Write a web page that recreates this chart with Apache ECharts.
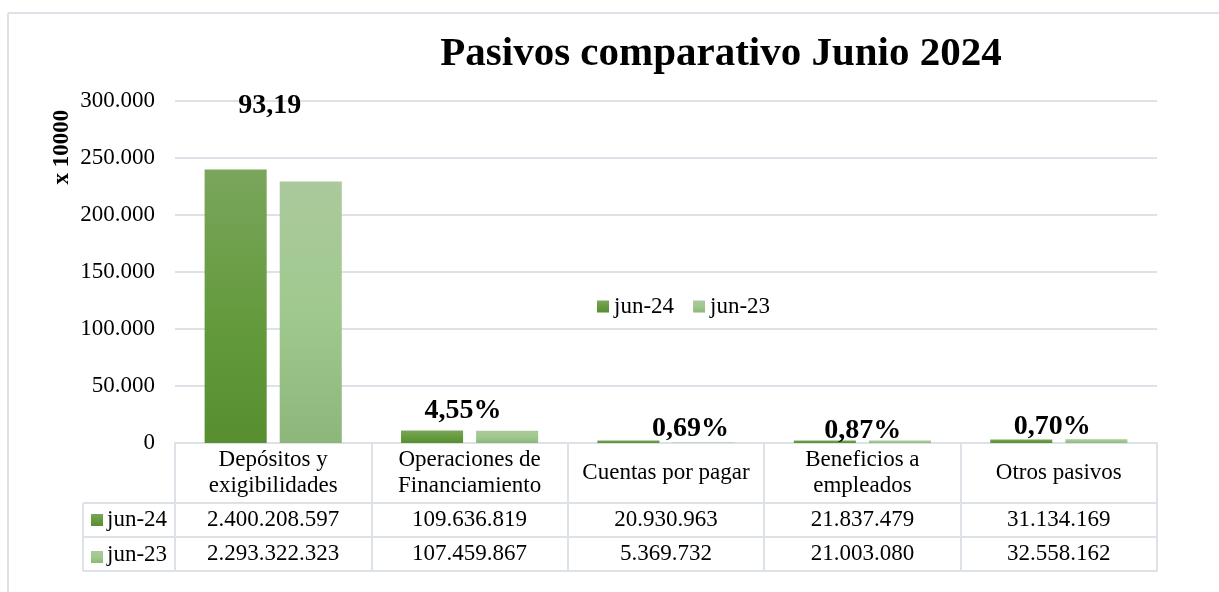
<!DOCTYPE html>
<html lang="es">
<head>
    <meta charset="UTF-8">
    <title>Pasivos comparativo Junio 2024</title>
    <script src="https://cdn.jsdelivr.net/npm/echarts@6/dist/echarts.min.js"></script>
    <style>
        html, body { margin: 0; padding: 0; background: #fff; }
        #pasivosBar { width: 1219px; height: 592px; }
    </style>
</head>
<body>
<div id="pasivosBar"></div>
<script type="text/javascript">
    // datos
    var categorias = ['Depósitos y\nexigibilidades', 'Operaciones de\nFinanciamiento', 'Cuentas por pagar', 'Beneficios a\nempleados', 'Otros pasivos']
    var jun24 = [2400208597, 109636819, 20930963, 21837479, 31134169]
    var jun23 = [2293322323, 107459867, 5369732, 21003080, 32558162]
    var etiquetas = ['93,19', '4,55%', '0,69%', '0,87%', '0,70%']
    var escala = 10000

    var fuente = "'Liberation Serif', 'Times New Roman', serif"
    var gris = '#dde1e8'

    function miles(n) {
        return String(Math.round(n)).replace(/\B(?=(\d{3})+(?!\d))/g, '.')
    }

    var verde24 = new echarts.graphic.LinearGradient(0, 0, 0, 1, [
        {offset: 0, color: '#7aa65c'},
        {offset: 0.6, color: '#62993a'},
        {offset: 1, color: '#578e2f'}
    ])
    var verde23 = new echarts.graphic.LinearGradient(0, 0, 0, 1, [
        {offset: 0, color: '#abc99c'},
        {offset: 0.5, color: '#a0c98e'},
        {offset: 1, color: '#8cb67a'}
    ])

    // desplazamiento de las etiquetas (como en el grafico original)
    var desplaza = [[34, -45], [31, -1], [62, 7], [38, 9], [31, 6]]

    var datos24 = jun24.map(function (v, i) {
        return {
            value: v / escala,
            label: {
                show: true,
                position: 'top',
                formatter: etiquetas[i],
                offset: desplaza[i]
            }
        }
    })
    var datos23 = jun23.map(function (v) { return v / escala })

    var chart = echarts.init(document.getElementById('pasivosBar'))

    var option = {
        animation: false,
        textStyle: {fontFamily: fuente},
        title: {
            text: 'Pasivos comparativo Junio 2024',
            left: 716,
            top: 29,
            textAlign: 'center',
            textStyle: {fontFamily: fuente, fontSize: 41, fontWeight: 'bold', color: '#000'}
        },
        legend: {
            left: 592,
            top: 290,
            itemWidth: 12,
            itemHeight: 12,
            itemGap: 19,
            icon: 'rect',
            textStyle: {fontFamily: fuente, fontSize: 23, color: '#000'},
            data: ['jun-24', 'jun-23']
        },
        grid: {left: 175, right: 62, top: 101, bottom: 149},
        xAxis: [
            {
                type: 'category',
                data: categorias,
                axisLine: {lineStyle: {color: gris, width: 2}},
                axisTick: {show: true, interval: 0, length: 128, lineStyle: {color: gris, width: 2}},
                axisLabel: {
                    interval: 0, margin: 30, verticalAlign: 'middle',
                    fontFamily: fuente, fontSize: 23, lineHeight: 26, color: '#000'
                }
            },
            {
                type: 'category',
                position: 'bottom',
                offset: 60,
                data: jun24.map(miles),
                axisLine: {lineStyle: {color: gris, width: 2}},
                axisTick: {show: false},
                axisLabel: {interval: 0, margin: 17, verticalAlign: 'middle', fontFamily: fuente, fontSize: 23, color: '#000'}
            },
            {
                type: 'category',
                position: 'bottom',
                offset: 94,
                data: jun23.map(miles),
                axisLine: {lineStyle: {color: gris, width: 2}},
                axisTick: {show: false},
                axisLabel: {interval: 0, margin: 17, verticalAlign: 'middle', fontFamily: fuente, fontSize: 23, color: '#000'}
            },
            {
                type: 'category',
                position: 'bottom',
                offset: 128,
                data: categorias,
                axisLine: {lineStyle: {color: gris, width: 2}},
                axisTick: {show: false},
                axisLabel: {show: false}
            }
        ],
        yAxis: {
            type: 'value',
            min: 0,
            max: 300000,
            interval: 50000,
            axisLine: {show: false},
            axisTick: {show: false},
            splitLine: {lineStyle: {color: gris, width: 2}},
            axisLabel: {
                margin: 20,
                fontFamily: fuente, fontSize: 23, color: '#000',
                formatter: function (v) { return miles(v) }
            }
        },
        series: [
            {
                name: 'jun-24',
                type: 'bar',
                xAxisIndex: 0,
                barWidth: '31.6%',
                barGap: '21%',
                itemStyle: {color: verde24},
                label: {fontFamily: fuente, fontSize: 28, fontWeight: 'bold', color: '#000'},
                data: datos24
            },
            {
                name: 'jun-23',
                type: 'bar',
                xAxisIndex: 0,
                barWidth: '31.6%',
                itemStyle: {color: verde23},
                data: datos23
            }
        ],
        graphic: [
            // marco exterior
            {type: 'line', shape: {x1: 8, y1: 13, x2: 1219, y2: 13}, style: {stroke: gris, lineWidth: 2}},
            {type: 'line', shape: {x1: 8, y1: 13, x2: 8, y2: 592}, style: {stroke: gris, lineWidth: 2}},
            // titulo del eje
            {
                type: 'text', x: 62, y: 147, rotation: Math.PI / 2,
                style: {text: 'x 10000', font: 'bold 23px ' + fuente, fill: '#000', align: 'center', verticalAlign: 'middle'}
            },
            // columna de leyenda de la tabla
            {type: 'line', shape: {x1: 83, y1: 503, x2: 175, y2: 503}, style: {stroke: gris, lineWidth: 2}},
            {type: 'line', shape: {x1: 83, y1: 537, x2: 175, y2: 537}, style: {stroke: gris, lineWidth: 2}},
            {type: 'line', shape: {x1: 83, y1: 571, x2: 175, y2: 571}, style: {stroke: gris, lineWidth: 2}},
            {type: 'line', shape: {x1: 83, y1: 503, x2: 83, y2: 571}, style: {stroke: gris, lineWidth: 2}},
            {type: 'rect', shape: {x: 91, y: 514, width: 12, height: 12}, style: {fill: verde24}},
            {type: 'rect', shape: {x: 91, y: 551, width: 12, height: 12}, style: {fill: verde23}},
            {type: 'text', x: 107, y: 520, style: {text: 'jun-24', font: '23px ' + fuente, fill: '#000', verticalAlign: 'middle'}},
            {type: 'text', x: 107, y: 555, style: {text: 'jun-23', font: '23px ' + fuente, fill: '#000', verticalAlign: 'middle'}}
        ]
    }

    chart.setOption(option)
</script>
</body>
</html>
